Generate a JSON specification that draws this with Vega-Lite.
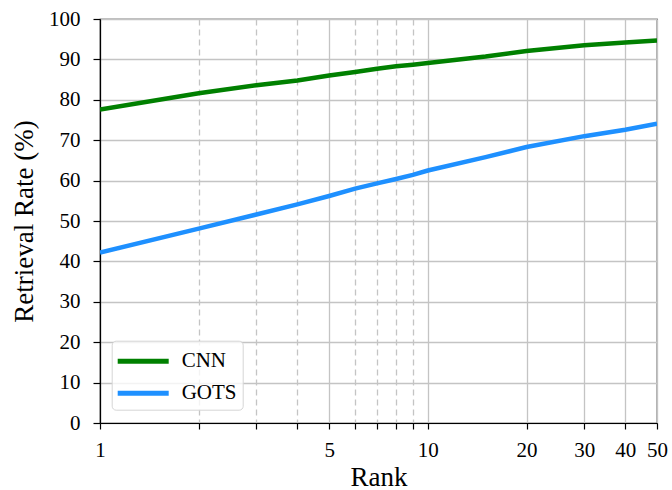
{
  "$schema": "https://vega.github.io/schema/vega-lite/v6.json",
  "width": 557,
  "height": 404,
  "autosize": {"type": "none"},
  "padding": {"left": 100, "top": 19, "right": 15, "bottom": 67},
  "config": {
    "font": "Liberation Serif",
    "view": {"stroke": "black", "strokeWidth": 1.2}
  },
  "data": {
    "values": [
      {"rank": 1, "method": "CNN", "rate": 77.6},
      {"rank": 2, "method": "CNN", "rate": 81.6},
      {"rank": 3, "method": "CNN", "rate": 83.6},
      {"rank": 4, "method": "CNN", "rate": 84.8},
      {"rank": 5, "method": "CNN", "rate": 86.0},
      {"rank": 6, "method": "CNN", "rate": 86.9},
      {"rank": 7, "method": "CNN", "rate": 87.7},
      {"rank": 8, "method": "CNN", "rate": 88.3},
      {"rank": 9, "method": "CNN", "rate": 88.7},
      {"rank": 10, "method": "CNN", "rate": 89.1},
      {"rank": 15, "method": "CNN", "rate": 90.7},
      {"rank": 20, "method": "CNN", "rate": 92.1},
      {"rank": 30, "method": "CNN", "rate": 93.5},
      {"rank": 40, "method": "CNN", "rate": 94.2},
      {"rank": 50, "method": "CNN", "rate": 94.7},
      {"rank": 1, "method": "GOTS", "rate": 42.2},
      {"rank": 2, "method": "GOTS", "rate": 48.1},
      {"rank": 3, "method": "GOTS", "rate": 51.6},
      {"rank": 4, "method": "GOTS", "rate": 54.1},
      {"rank": 5, "method": "GOTS", "rate": 56.2},
      {"rank": 6, "method": "GOTS", "rate": 58.0},
      {"rank": 7, "method": "GOTS", "rate": 59.3},
      {"rank": 8, "method": "GOTS", "rate": 60.4},
      {"rank": 9, "method": "GOTS", "rate": 61.4},
      {"rank": 10, "method": "GOTS", "rate": 62.5},
      {"rank": 15, "method": "GOTS", "rate": 65.8},
      {"rank": 20, "method": "GOTS", "rate": 68.3},
      {"rank": 30, "method": "GOTS", "rate": 71.0},
      {"rank": 40, "method": "GOTS", "rate": 72.6},
      {"rank": 50, "method": "GOTS", "rate": 74.1}
    ]
  },
  "mark": {"type": "line", "strokeWidth": 4.5, "strokeCap": "butt", "clip": true},
  "encoding": {
    "x": {
      "field": "rank",
      "type": "quantitative",
      "scale": {"type": "log", "domain": [1, 50], "nice": false},
      "axis": {
        "title": "Rank",
        "titleFontSize": 27,
        "titleFontWeight": "normal",
        "titleColor": "black",
        "titlePadding": 4,
        "values": [1, 2, 3, 4, 5, 6, 7, 8, 9, 10, 20, 30, 40, 50],
        "format": "d",
        "labelExpr": "indexof([1, 5, 10, 20, 30, 40, 50], datum.value) >= 0 ? datum.label : ''",
        "labelFontSize": 21,
        "labelColor": "black",
        "labelPadding": 10,
        "labelOverlap": false,
        "labelBound": false,
        "labelFlush": false,
        "tickSize": 6,
        "tickColor": "black",
        "tickWidth": 1.2,
        "domainColor": "black",
        "domainWidth": 1.2,
        "grid": true,
        "gridColor": "#c4c4c4",
        "gridWidth": 1.3,
        "gridDash": {
          "condition": {"test": "indexof([2, 3, 4, 6, 7, 8, 9], datum.value) >= 0", "value": [6, 4]},
          "value": []
        }
      }
    },
    "y": {
      "field": "rate",
      "type": "quantitative",
      "scale": {"domain": [0, 100], "nice": false},
      "axis": {
        "title": "Retrieval Rate (%)",
        "titleFontSize": 27,
        "titleFontWeight": "normal",
        "titleColor": "black",
        "titlePadding": 10,
        "values": [0, 10, 20, 30, 40, 50, 60, 70, 80, 90, 100],
        "labelFontSize": 21,
        "labelColor": "black",
        "labelPadding": 13,
        "tickSize": 7,
        "tickColor": "black",
        "tickWidth": 1.2,
        "domainColor": "black",
        "domainWidth": 1.2,
        "grid": true,
        "gridColor": "#c4c4c4",
        "gridWidth": 1.3
      }
    },
    "color": {
      "field": "method",
      "type": "nominal",
      "scale": {"domain": ["CNN", "GOTS"], "range": ["#008000", "#1e90ff"]},
      "legend": {
        "title": null,
        "orient": "none",
        "legendX": 11.7,
        "legendY": 321.7,
        "symbolType": "M-2.125,0H2.125",
        "symbolSize": 576,
        "symbolStrokeWidth": 5,
        "labelFontSize": 21,
        "labelColor": "black",
        "labelOffset": 24,
        "symbolOffset": 11,
        "padding": 6,
        "rowPadding": 7,
        "cornerRadius": 4,
        "strokeColor": "#d6d6d6",
        "fillColor": "rgba(255,255,255,0.8)"
      }
    }
  }
}
